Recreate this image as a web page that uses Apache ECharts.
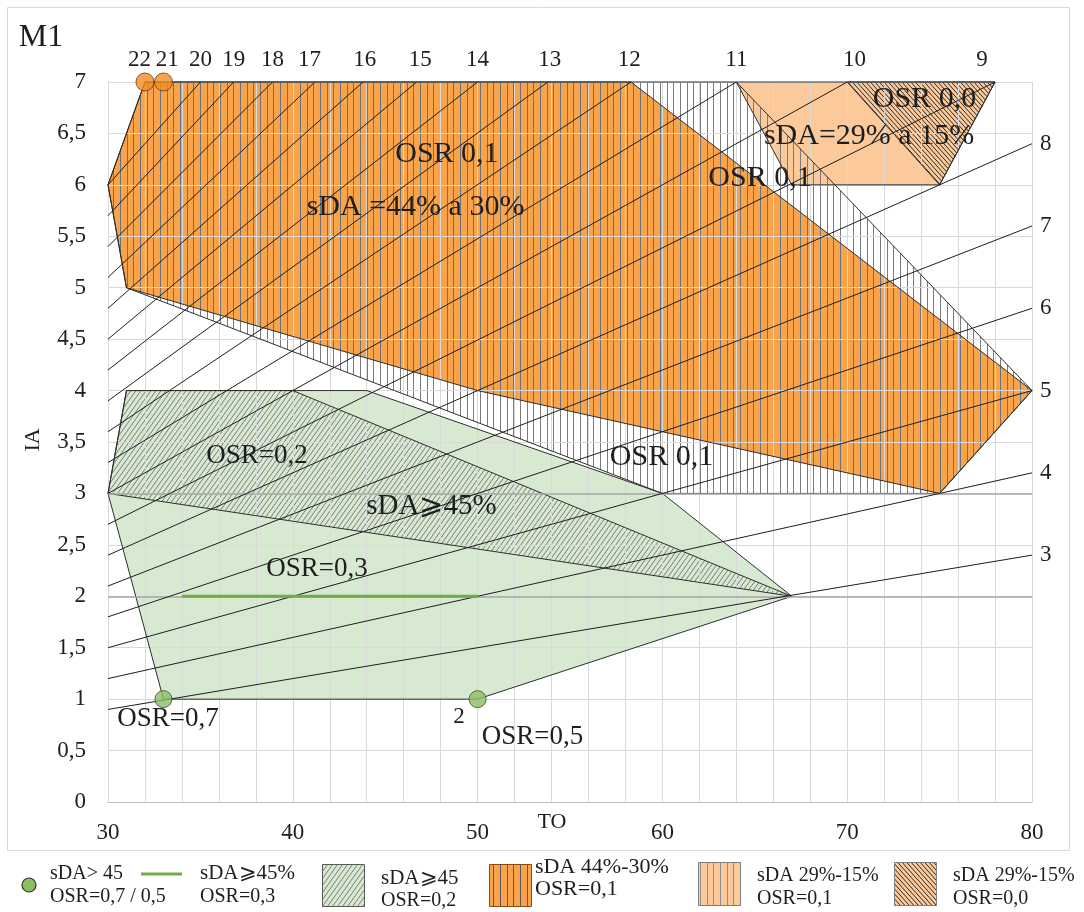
<!DOCTYPE html>
<html>
<head>
<meta charset="utf-8">
<script src="https://cdn.jsdelivr.net/npm/echarts@6.0.0/dist/echarts.min.js"></script>
<style>
  html, body { margin: 0; padding: 0; background: #ffffff; }
  #chart { width: 1084px; height: 912px; }
</style>
</head>
<body>
<div id="chart"></div>
<script>
// ---- Regions of the M1 diagram, vertices as [TO, IA] ----
const orangeRegion     = [[30, 6], [32, 7], [58.3, 7], [80, 4], [75, 3], [50, 4], [31, 5]];
const stripRegion      = [[30, 6], [32, 7], [64, 7], [80, 4], [75, 3], [60, 3], [31, 5]];
const peachRegion      = [[64, 7], [78, 7], [75, 6], [67, 6]];
const peachHatchRegion = [[70, 7], [78, 7], [75, 6]];
const greenRegion      = [[30, 3], [31, 4], [44, 4], [60, 3], [67, 2], [50, 1], [33, 1]];
const greenHatchRegion = [[30, 3], [31, 4], [40, 4], [67, 2]];

// ---- Iso-ratio lines (start and end points) ----
const isoNames = ['3', '4', '5', '6', '7', '8', '9', '10', '11', '12', '13', '14', '15', '16', '17', '18', '19', '20'];
const isoStart = [[30, 0.9], [30, 1.2], [30, 1.5], [30, 1.8], [30, 2.1], [30, 2.4], [30, 2.7], [30, 3.0], [30, 3.3],
                  [30, 3.6], [30, 3.9], [30, 4.2], [30, 4.5], [30, 4.8], [30, 5.1], [30, 5.4], [30, 5.7], [30, 6.0]];
const isoEnd   = [[80, 2.4], [80, 3.2], [80, 4.0], [80, 4.8], [80, 5.6], [80, 6.4], [78, 7], [70, 7], [64, 7],
                  [58.3, 7], [53.8, 7], [50, 7], [46.7, 7], [43.8, 7], [41.2, 7], [38.9, 7], [36.8, 7], [35, 7]];

// Labels of the lines along the top edge (IA = 7) and the right edge (TO = 80)
const topLabels   = ['22', '21', '20', '19', '18', '17', '16', '15', '14', '13', '12', '11', '10', '9'];
const topLabelTO  = [31.7, 33.2, 35, 36.8, 38.9, 40.9, 43.9, 46.9, 50, 53.9, 58.2, 64, 70.4, 77.3];
const rightLabels = ['8', '7', '6', '5', '4', '3'];
const rightLabelIA = [6.4, 5.6, 4.8, 4.0, 3.2, 2.4];

// ---- Point and line marks ----
const greenPoints  = [[33, 1], [50, 1]];
const orangePoints = [[32, 7], [33, 7]];
const osr03Line    = [[34, 2], [50, 2]];
const refLevels    = [2, 3];

// ---- Axis ticks ----
const xMin = 30, xMax = 80, xStep = 2;
const yMin = 0, yMax = 7, yStep = 0.5;

// ---- Text placed inside the plot ----
const notes = [
  { text: 'OSR 0,1',         at: [48.34, 6.30], size: 30 },
  { text: 'sDA =44% a 30%',  at: [46.64, 5.78], size: 30 },
  { text: 'sDA=29% a 15%',   at: [71.18, 6.47], size: 30 },
  { text: 'OSR 0,0',         at: [74.18, 6.83], size: 30 },
  { text: 'OSR 0,1',         at: [65.28, 6.07], size: 30 },
  { text: 'OSR 0,1',         at: [59.95, 3.35], size: 30 },
  { text: 'OSR=0,2',         at: [38.06, 3.36], size: 27 },
  { text: 'sDA\u2A7E45%',    at: [47.50, 2.87], size: 29 },
  { text: 'OSR=0,3',         at: [41.31, 2.27], size: 27 },
  { text: 'OSR=0,7',         at: [33.25, 0.81], size: 27 },
  { text: '2',               at: [48.99, 0.83], size: 23 },
  { text: 'OSR=0,5',         at: [52.97, 0.63], size: 27 }
];

// ---- Styles ----
const SERIF = "'Liberation Serif', 'Times New Roman', serif";
const INK = '#1e1e1e';
const ORANGE = '#F9A44B';
const PEACH = '#FBC99A';
const LIGHT_GREEN = '#D8E9D2';
const GREEN = '#70AD47';

function tile(w, h, bg, paint) {
  const c = document.createElement('canvas');
  c.width = w; c.height = h;
  const g = c.getContext('2d');
  if (bg) { g.fillStyle = bg; g.fillRect(0, 0, w, h); }
  paint(g, w, h);
  return { image: c, repeat: 'repeat' };
}
function verticalLines(col) {
  return (g, w, h) => { g.fillStyle = col; [0, 7, 13].forEach(x => g.fillRect(x, 0, 1, h)); };
}
// diagonal hatch, `offsets` are the starting x positions of the lines inside one tile
function diagonal(col, lw, forward, offsets) {
  return (g, w, h) => {
    g.strokeStyle = col; g.lineWidth = lw;
    offsets.forEach(o => {
      for (let kx = -1; kx <= 1; kx++) {
        for (let ky = -1; ky <= 1; ky++) {
          g.beginPath();
          if (forward) { g.moveTo(o + kx * w, h + ky * h); g.lineTo(o + kx * w + w, ky * h); }
          else { g.moveTo(o + kx * w, ky * h); g.lineTo(o + kx * w + w, ky * h + h); }
          g.stroke();
        }
      }
    });
  };
}

const fillOrange     = tile(20, 20, ORANGE, verticalLines('#6c727b'));
const fillStrip      = tile(20, 20, null, verticalLines('#7a7a7a'));
const fillPeach      = PEACH;
const fillPeachHatch = tile(9, 10, PEACH, diagonal('#2b2b2b', 1, false, [0, 4.5]));
const fillGreen      = LIGHT_GREEN;
const fillGreenHatch = tile(5, 7, LIGHT_GREEN, diagonal('#707070', 0.9, true, [0]));

const legOrange = tile(20, 20, ORANGE, verticalLines('#5a5a5a'));
const legPeachV = tile(20, 20, PEACH, verticalLines('#909090'));

function regionSeries(pts, fill, z) {
  return {
    type: 'custom', coordinateSystem: 'cartesian2d', z: z, silent: true, animation: false,
    data: [pts[0]],
    renderItem: (params, api) => ({
      type: 'polygon',
      shape: { points: pts.map(p => api.coord(p)) },
      style: { fill: fill, stroke: null }
    })
  };
}

const outlined = [stripRegion, orangeRegion, peachRegion, peachHatchRegion, greenRegion, greenHatchRegion];

const chart = echarts.init(document.getElementById('chart'), null, { renderer: 'canvas', width: 1084, height: 912 });

const option = {
  backgroundColor: '#ffffff',
  animation: false,
  grid: { left: 108, right: 52, top: 82, bottom: 110, containLabel: false },
  xAxis: {
    type: 'value', min: xMin, max: xMax, interval: xStep,
    axisLine: { show: true, onZero: false, lineStyle: { color: '#bfbfbf', width: 1 } },
    axisTick: { show: false },
    axisLabel: {
      margin: 19, color: INK, fontFamily: SERIF, fontSize: 23,
      formatter: v => (v % 10 === 0 ? String(v) : '')
    },
    splitLine: { show: true, lineStyle: { color: '#d9d9d9', width: 1 } }
  },
  yAxis: {
    type: 'value', min: yMin, max: yMax, interval: yStep,
    axisLine: { show: false },
    axisTick: { show: false },
    axisLabel: {
      margin: 22, color: INK, fontFamily: SERIF, fontSize: 23,
      formatter: v => String(v).replace('.', ',')
    },
    splitLine: { show: true, lineStyle: { color: '#d9d9d9', width: 1 } }
  },
  series: [
    regionSeries(peachRegion, fillPeach, -7),
    regionSeries(peachHatchRegion, fillPeachHatch, -6),
    regionSeries(stripRegion, fillStrip, -5),
    regionSeries(orangeRegion, fillOrange, -4),
    regionSeries(greenRegion, fillGreen, -3),
    regionSeries(greenHatchRegion, fillGreenHatch, -2),
    // region borders
    {
      type: 'custom', coordinateSystem: 'cartesian2d', z: 2, silent: true, animation: false,
      data: outlined.map(r => r[0]),
      renderItem: (params, api) => ({
        type: 'polygon',
        shape: { points: outlined[params.dataIndex].map(p => api.coord(p)) },
        style: { fill: null, stroke: '#2e2e2e', lineWidth: 1 }
      })
    },
    // darker reference levels
    {
      type: 'lines', coordinateSystem: 'cartesian2d', z: 2, silent: true, animation: false,
      data: refLevels.map(v => ({ coords: [[xMin, v], [xMax, v]] })),
      lineStyle: { color: '#a6a6a6', width: 1.5, opacity: 1 }
    },
    // iso-ratio lines
    {
      type: 'lines', coordinateSystem: 'cartesian2d', z: 3, silent: true, animation: false,
      data: isoStart.map((s, i) => ({ name: isoNames[i], coords: [s, isoEnd[i]] })),
      lineStyle: { color: '#1e1e1e', width: 1, opacity: 1 }
    },
    // OSR = 0,3 segment
    {
      type: 'line', z: 4, silent: true, animation: false, symbol: 'none',
      data: osr03Line,
      lineStyle: { color: GREEN, width: 3 }
    },
    {
      type: 'scatter', z: 5, silent: true, animation: false,
      data: greenPoints, symbolSize: 17,
      itemStyle: { color: '#8DBE64', borderColor: '#3d4d33', borderWidth: 1 }
    },
    {
      type: 'scatter', z: 5, silent: true, animation: false,
      data: orangePoints, symbolSize: 18,
      itemStyle: { color: '#F58B20', borderColor: '#5a3d20', borderWidth: 1 }
    },
    // top line labels
    {
      type: 'custom', coordinateSystem: 'cartesian2d', z: 6, silent: true, animation: false,
      data: topLabelTO.map(x => [x, yMax]),
      renderItem: (params, api) => {
        const p = api.coord([api.value(0), api.value(1)]);
        return { type: 'text', x: p[0], y: p[1] - 22.5,
          style: { text: topLabels[params.dataIndex], fontFamily: SERIF, fontSize: 23, fill: INK, align: 'center', verticalAlign: 'middle' } };
      }
    },
    // right line labels
    {
      type: 'custom', coordinateSystem: 'cartesian2d', z: 6, silent: true, animation: false,
      data: rightLabelIA.map(y => [xMax, y]),
      renderItem: (params, api) => {
        const p = api.coord([api.value(0), api.value(1)]);
        return { type: 'text', x: p[0] + 8, y: p[1],
          style: { text: rightLabels[params.dataIndex], fontFamily: SERIF, fontSize: 23, fill: INK, align: 'left', verticalAlign: 'middle' } };
      }
    },
    // notes in the plot
    {
      type: 'custom', coordinateSystem: 'cartesian2d', z: 6, silent: true, animation: false,
      data: notes.map(n => n.at),
      renderItem: (params, api) => {
        const n = notes[params.dataIndex];
        const p = api.coord(n.at);
        return { type: 'text', x: p[0], y: p[1],
          style: { text: n.text, fontFamily: SERIF, fontSize: n.size, fill: INK, align: 'center', verticalAlign: 'middle' } };
      }
    }
  ],
  graphic: [
    { type: 'rect', shape: { x: 7.5, y: 7.5, width: 1062, height: 843 }, style: { fill: null, stroke: '#d9d9d9', lineWidth: 1 }, silent: true, z: -10 },
    { type: 'text', x: 41, y: 38, style: { text: 'M1', fontFamily: SERIF, fontSize: 32, fill: INK, align: 'center', verticalAlign: 'middle' } },
    { type: 'text', x: 552, y: 822, style: { text: 'TO', fontFamily: SERIF, fontSize: 22, fill: INK, align: 'center', verticalAlign: 'middle' } },
    { type: 'text', x: 33, y: 440, rotation: Math.PI / 2, style: { text: 'IA', fontFamily: SERIF, fontSize: 22, fill: INK, align: 'center', verticalAlign: 'middle' } },

    // legend
    { type: 'circle', shape: { cx: 29, cy: 885, r: 7 }, style: { fill: '#8DBE64', stroke: '#2f3a28', lineWidth: 1.2 } },
    { type: 'text', x: 50, y: 874, style: { text: 'sDA> 45', fontFamily: SERIF, fontSize: 20, fill: INK, verticalAlign: 'middle' } },
    { type: 'text', x: 50, y: 897, style: { text: 'OSR=0,7 / 0,5', fontFamily: SERIF, fontSize: 20, fill: INK, verticalAlign: 'middle' } },

    { type: 'line', shape: { x1: 141, y1: 874, x2: 182, y2: 874 }, style: { stroke: GREEN, lineWidth: 3 } },
    { type: 'text', x: 200, y: 873, style: { text: 'sDA\u2A7E45%', fontFamily: SERIF, fontSize: 21, fill: INK, verticalAlign: 'middle' } },
    { type: 'text', x: 200, y: 897, style: { text: 'OSR=0,3', fontFamily: SERIF, fontSize: 20, fill: INK, verticalAlign: 'middle' } },

    { type: 'rect', shape: { x: 322.5, y: 864.5, width: 42, height: 42 }, style: { fill: fillGreenHatch, stroke: '#595959', lineWidth: 1 } },
    { type: 'text', x: 381, y: 878, style: { text: 'sDA\u2A7E45', fontFamily: SERIF, fontSize: 21, fill: INK, verticalAlign: 'middle' } },
    { type: 'text', x: 381, y: 901, style: { text: 'OSR=0,2', fontFamily: SERIF, fontSize: 20, fill: INK, verticalAlign: 'middle' } },

    { type: 'rect', shape: { x: 489.5, y: 864.5, width: 42, height: 42 }, style: { fill: legOrange, stroke: '#8a4a14', lineWidth: 1 } },
    { type: 'text', x: 535, y: 867, style: { text: 'sDA 44%-30%', fontFamily: SERIF, fontSize: 22, fill: INK, verticalAlign: 'middle' } },
    { type: 'text', x: 535, y: 889, style: { text: 'OSR=0,1', fontFamily: SERIF, fontSize: 22, fill: INK, verticalAlign: 'middle' } },

    { type: 'rect', shape: { x: 698.5, y: 862.5, width: 42, height: 43 }, style: { fill: legPeachV, stroke: '#7f7f7f', lineWidth: 1 } },
    { type: 'text', x: 757, y: 876, style: { text: 'sDA 29%-15%', fontFamily: SERIF, fontSize: 20, fill: INK, verticalAlign: 'middle' } },
    { type: 'text', x: 757, y: 899, style: { text: 'OSR=0,1', fontFamily: SERIF, fontSize: 20, fill: INK, verticalAlign: 'middle' } },

    { type: 'rect', shape: { x: 894.5, y: 862.5, width: 42, height: 43 }, style: { fill: fillPeachHatch, stroke: '#7f7f7f', lineWidth: 1 } },
    { type: 'text', x: 953, y: 876, style: { text: 'sDA 29%-15%', fontFamily: SERIF, fontSize: 20, fill: INK, verticalAlign: 'middle' } },
    { type: 'text', x: 953, y: 899, style: { text: 'OSR=0,0', fontFamily: SERIF, fontSize: 20, fill: INK, verticalAlign: 'middle' } }
  ]
};

chart.setOption(option);
</script>
</body>
</html>
